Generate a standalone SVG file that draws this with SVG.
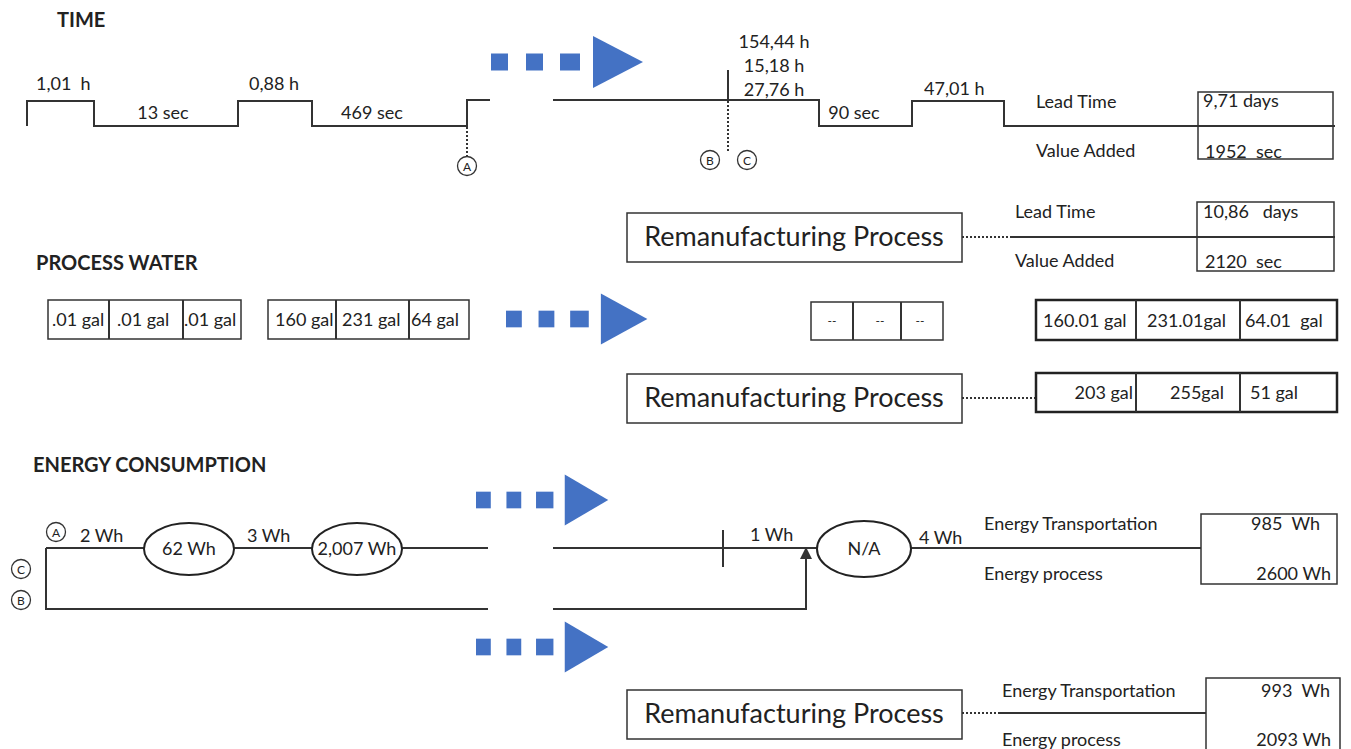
<svg xmlns="http://www.w3.org/2000/svg" width="1351" height="749" viewBox="0 0 1351 749">
<style>
text{font-family:Lato,"Open Sans","Liberation Sans",sans-serif;fill:#222;white-space:pre;}
.t{font-size:18px;}
.h{font-size:20px;font-weight:bold;}
.big{font-size:27px;}
.sm{font-size:12px;}
.ln{fill:none;stroke:#333;stroke-width:2;}
.dot{fill:none;stroke:#333;stroke-width:2;stroke-dasharray:2 2;}
.box{fill:#fff;stroke:#333;stroke-width:1.5;}
.tbox{fill:#fff;stroke:#222;stroke-width:2.5;}
.circ{fill:#fff;stroke:#333;stroke-width:1.3;}
.el{fill:#fff;stroke:#222;stroke-width:2;}
.blue{fill:#4472C4;}
</style>
<defs>
<g id="bigArrow">
<rect class="blue" x="0" y="-8.5" width="17" height="17"/>
<rect class="blue" x="35" y="-8.5" width="17" height="17"/>
<rect class="blue" x="69" y="-8.5" width="20" height="17"/>
<polygon class="blue" points="102,-26 152,0 102,26"/>
</g>
<marker id="ah" markerWidth="6" markerHeight="6" refX="3" refY="3" orient="auto"><path d="M0,0 L6,3 L0,6 z" fill="#333"/></marker>
</defs>

<!-- TIME section -->
<g id="time-title"><text class="h" x="57" y="27">TIME</text></g>
<g id="connectors">
<polyline class="ln" points="27,126 27,101 94,101 94,126 238,126 238,101 312,101 312,126 467,126 467,100 490,100"/>
<polyline class="ln" points="553,100 819,100 819,126 912,126 912,101 1004,101 1004,126 1335,126"/>
<line class="dot" x1="467" y1="127" x2="467" y2="157"/>
<line class="ln" x1="728" y1="70" x2="728" y2="100"/>
<line class="dot" x1="728" y1="101" x2="728" y2="151"/>
<line class="dot" x1="962" y1="237" x2="1010" y2="237"/>
<line class="ln" x1="1010" y1="237" x2="1335" y2="237"/>
<line class="dot" x1="962" y1="398" x2="1036" y2="398"/>
<polyline class="ln" points="46,548 144,548"/>
<polyline class="ln" points="46,548 46,609 488,609"/>
<line class="ln" x1="234" y1="548" x2="312" y2="548"/>
<line class="ln" x1="402" y1="548" x2="488" y2="548"/>
<line class="ln" x1="553" y1="548" x2="817" y2="548"/>
<line class="ln" x1="723" y1="530" x2="723" y2="567"/>
<polyline class="ln" points="553,609 806,609 806,553" marker-end="url(#ah)"/>
<line class="ln" x1="911" y1="548" x2="1337" y2="548"/>
<line class="dot" x1="962" y1="713" x2="1000" y2="713"/>
<line class="ln" x1="1000" y1="713" x2="1340" y2="713"/>
</g>

<g id="time-labels">
<text class="t" x="36" y="90">1,01  h</text>
<text class="t" x="163" y="119" text-anchor="middle">13 sec</text>
<text class="t" x="249" y="90">0,88 h</text>
<text class="t" x="372" y="119" text-anchor="middle">469 sec</text>
<text class="t" x="774" y="48" text-anchor="middle">154,44 h</text>
<text class="t" x="774" y="72" text-anchor="middle">15,18 h</text>
<text class="t" x="774" y="96" text-anchor="middle">27,76 h</text>
<text class="t" x="854" y="119" text-anchor="middle">90 sec</text>
<text class="t" x="924" y="95">47,01 h</text>
</g>
<g id="marker-A1"><circle class="circ" cx="467" cy="166" r="9.5"/><text class="sm" x="467" y="170.5" text-anchor="middle">A</text></g>
<g id="marker-B1"><circle class="circ" cx="710" cy="160" r="9.5"/><text class="sm" x="710" y="164.5" text-anchor="middle">B</text></g>
<g id="marker-C1"><circle class="circ" cx="747" cy="160" r="9.5"/><text class="sm" x="747" y="164.5" text-anchor="middle">C</text></g>
<g id="arrow-time"><use href="#bigArrow" transform="translate(491,62)"/></g>

<g id="time-summary">
<text class="t" x="1036" y="108">Lead Time</text>
<text class="t" x="1036" y="157">Value Added</text>
<rect class="box" x="1198" y="92" width="135" height="67" fill="none"/>
<line class="ln" x1="1198" y1="126" x2="1333" y2="126"/>
<text class="t" x="1203" y="107">9,71 days</text>
<text class="t" x="1205" y="158">1952  sec</text>
</g>

<g id="reman-time">
<rect class="box" x="627" y="213" width="335" height="49"/>
<text class="big" x="794" y="246" text-anchor="middle">Remanufacturing Process</text>
</g>
<g id="reman-time-summary">
<text class="t" x="1015" y="218">Lead Time</text>
<text class="t" x="1015" y="267">Value Added</text>
<rect class="box" x="1197" y="202" width="137" height="69" fill="none"/>
<line class="ln" x1="1197" y1="237" x2="1334" y2="237"/>
<text class="t" x="1203" y="218">10,86   days</text>
<text class="t" x="1205" y="268">2120  sec</text>
</g>

<!-- PROCESS WATER -->
<g id="water-title"><text class="h" x="36" y="270">PROCESS WATER</text></g>
<g id="water-1">
<rect class="box" x="48" y="300" width="193" height="39"/>
<line class="ln" x1="109" y1="300" x2="109" y2="339" stroke-width="1.5"/>
<line class="ln" x1="183" y1="300" x2="183" y2="339" stroke-width="1.5"/>
<text class="t" x="52" y="326">.01 gal</text>
<text class="t" x="117" y="326">.01 gal</text>
<text class="t" x="184" y="326">.01 gal</text>
</g>
<g id="water-2">
<rect class="box" x="268" y="300" width="201" height="39"/>
<line class="ln" x1="336" y1="300" x2="336" y2="339" stroke-width="1.5"/>
<line class="ln" x1="409" y1="300" x2="409" y2="339" stroke-width="1.5"/>
<text class="t" x="275" y="326">160 gal</text>
<text class="t" x="342" y="326">231 gal</text>
<text class="t" x="411" y="326">64 gal</text>
</g>
<g id="arrow-water"><use href="#bigArrow" transform="translate(506,319) scale(0.93,0.98)"/></g>
<g id="water-3">
<rect class="box" x="811" y="302" width="132" height="38"/>
<line class="ln" x1="853" y1="302" x2="853" y2="340" stroke-width="1.5"/>
<line class="ln" x1="901" y1="302" x2="901" y2="340" stroke-width="1.5"/>
<text class="sm" x="832" y="325" text-anchor="middle">--</text>
<text class="sm" x="880" y="325" text-anchor="middle">--</text>
<text class="sm" x="920" y="325" text-anchor="middle">--</text>
</g>
<g id="water-total">
<rect class="tbox" x="1036" y="300" width="301" height="40"/>
<line class="ln" x1="1136" y1="300" x2="1136" y2="340" stroke-width="2.5"/>
<line class="ln" x1="1240" y1="300" x2="1240" y2="340" stroke-width="2.5"/>
<text class="t" x="1043" y="327">160.01 gal</text>
<text class="t" x="1147" y="327">231.01gal</text>
<text class="t" x="1245" y="327">64.01  gal</text>
</g>
<g id="reman-water">
<rect class="box" x="627" y="374" width="335" height="49"/>
<text class="big" x="794" y="407" text-anchor="middle">Remanufacturing Process</text>
</g>
<g id="reman-water-total">
<rect class="tbox" x="1036" y="373" width="301" height="39"/>
<line class="ln" x1="1136" y1="373" x2="1136" y2="412" stroke-width="2.5"/>
<line class="ln" x1="1240" y1="373" x2="1240" y2="412" stroke-width="2.5"/>
<text class="t" x="1133" y="399" text-anchor="end">203 gal</text>
<text class="t" x="1170" y="399">255gal</text>
<text class="t" x="1250" y="399">51 gal</text>
</g>

<!-- ENERGY -->
<g id="energy-title"><text class="h" x="33" y="472">ENERGY CONSUMPTION</text></g>
<g id="arrow-energy-1"><use href="#bigArrow" transform="translate(476,500) scale(0.87,0.98)"/></g>
<g id="arrow-energy-2"><use href="#bigArrow" transform="translate(476,647) scale(0.87,0.98)"/></g>
<g id="marker-A2"><circle class="circ" cx="56" cy="532" r="9.5"/><text class="sm" x="56" y="536.5" text-anchor="middle">A</text></g>
<g id="marker-C2"><circle class="circ" cx="21" cy="569" r="9.5"/><text class="sm" x="21" y="573.5" text-anchor="middle">C</text></g>
<g id="marker-B2"><circle class="circ" cx="21" cy="600" r="9.5"/><text class="sm" x="21" y="604.5" text-anchor="middle">B</text></g>
<g id="energy-labels">
<text class="t" x="80" y="542">2 Wh</text>
<text class="t" x="247" y="542">3 Wh</text>
<text class="t" x="750" y="541">1 Wh</text>
<text class="t" x="919" y="544">4 Wh</text>
</g>
<g id="node-62wh"><ellipse class="el" cx="189" cy="549" rx="45" ry="26"/><text class="t" x="189" y="555" text-anchor="middle">62 Wh</text></g>
<g id="node-2007wh"><ellipse class="el" cx="357" cy="549" rx="45" ry="26"/><text class="t" x="357" y="555" text-anchor="middle">2,007 Wh</text></g>
<g id="node-na"><ellipse class="el" cx="864" cy="549" rx="47" ry="28"/><text class="t" x="864" y="555" text-anchor="middle">N/A</text></g>
<g id="energy-summary">
<text class="t" x="984" y="530">Energy Transportation</text>
<text class="t" x="984" y="580">Energy process</text>
<rect class="box" x="1201" y="514" width="136" height="70" fill="none"/>
<text class="t" x="1320" y="530" text-anchor="end">985  Wh</text>
<text class="t" x="1331" y="580" text-anchor="end">2600 Wh</text>
</g>
<g id="reman-energy">
<rect class="box" x="627" y="690" width="335" height="49"/>
<text class="big" x="794" y="723" text-anchor="middle">Remanufacturing Process</text>
</g>
<g id="reman-energy-summary">
<text class="t" x="1002" y="697">Energy Transportation</text>
<text class="t" x="1002" y="746">Energy process</text>
<rect class="box" x="1206" y="678" width="134" height="72" fill="none"/>
<text class="t" x="1330" y="697" text-anchor="end">993  Wh</text>
<text class="t" x="1331" y="746" text-anchor="end">2093 Wh</text>
</g>
</svg>
